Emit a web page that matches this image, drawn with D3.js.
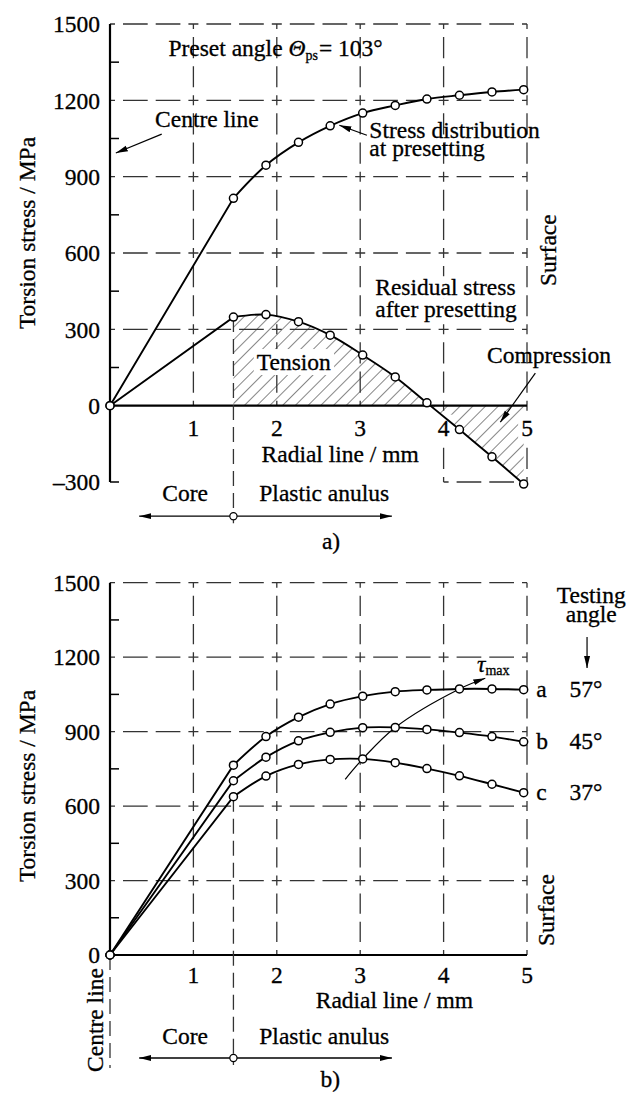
<!DOCTYPE html>
<html><head><meta charset="utf-8">
<script src="https://cdn.jsdelivr.net/npm/d3@7"></script>
<style>
body{margin:0;background:#fff;}
svg{display:block;font-family:"Liberation Serif","Times New Roman",serif;}
</style></head><body>
<svg id="chart" width="630" height="1095"></svg>
<script>
// ---------- data ----------
const radial = [0, 1.48, 1.87, 2.26, 2.64, 3.03, 3.42, 3.80, 4.19, 4.58, 4.96];
const presetStress = [0, 815, 945, 1035, 1100, 1150, 1180, 1205, 1220, 1233, 1242];
const residualStress = [0, 348, 358, 330, 277, 199, 113, 11, -94, -201, -308];
const testA = [0, 765, 880, 958, 1011, 1043, 1061, 1068, 1072, 1072, 1069];
const testB = [0, 702, 797, 863, 897, 916, 917, 909, 896, 880, 859];
const testC = [0, 638, 721, 768, 788, 790, 775, 751, 722, 688, 654];
const tauX = [2.82, 3.03, 3.42, 4.19, 4.50];
const tauY = [708, 790, 917, 1072, 1115];
const curveLabels = ["a", "b", "c"];
const testAngles = ["57°", "45°", "37°"];
const xTicks = [1, 2, 3, 4, 5];
const yTicksTop = [-300, 0, 300, 600, 900, 1200, 1500];
const yTicksBottom = [0, 300, 600, 900, 1200, 1500];
const minorTicks = [150, 450, 750, 1050, 1350];
const coreRadius = 1.48;

// ---------- setup ----------
const svg = d3.select("#chart");
const FS = 23.5;
const defs = svg.append("defs");
defs.append("marker").attr("id", "arr").attr("viewBox", "0 -5 12 10")
  .attr("refX", 12).attr("refY", 0).attr("markerWidth", 12).attr("markerHeight", 10)
  .attr("markerUnits", "userSpaceOnUse").attr("orient", "auto")
  .append("path").attr("d", "M0,-3L12,0L0,3Z").attr("fill", "#000");
const pat = defs.append("pattern").attr("id", "hatch").attr("patternUnits", "userSpaceOnUse")
  .attr("width", 9).attr("height", 9).attr("patternTransform", "rotate(45)");
pat.append("line").attr("x1", 0).attr("y1", 0).attr("x2", 0).attr("y2", 9)
  .attr("stroke", "#222").attr("stroke-width", 1.1);

// text helper: optional white backing box (pad px) under the text
function txt(g, x, y, s, o = {}) {
  const t = g.append("text").attr("font-size", o.size || FS)
    .attr("text-anchor", o.anchor || "start")
    .attr("fill", "#000").attr("stroke", "#000").attr("stroke-width", 0.3);
  if (o.rotate) t.attr("transform", `translate(${x},${y}) rotate(-90)`);
  else t.attr("x", x).attr("y", y);
  if (o.dy) t.attr("dy", o.dy);
  if (typeof s === "function") s(t); else t.text(s);
  if (o.pad) {
    const b = t.node().getBBox();
    g.insert("rect", () => t.node())
      .attr("x", b.x - o.pad).attr("y", b.y + 3 - o.pad)
      .attr("width", b.width + 2 * o.pad).attr("height", b.height - 6 + 2 * o.pad)
      .attr("fill", "#fff");
  }
  return t;
}

function cellDash(L) {
  const a = 5, g = 8, d = (L - 2 * a - 3 * g) / 2;
  return [a, g, d, g, d, g, a, 0].join(",");
}

function drawPanel(cfg) {
  const { x, y, g, yTicks, yMin } = cfg;
  const cellW = x(1) - x(0), cellH = y(0) - y(300);
  yTicks.filter(v => v > 0).forEach(v => {
    g.append("line").attr("x1", x(0)).attr("x2", x(5)).attr("y1", y(v)).attr("y2", y(v))
      .attr("stroke", "#333").attr("stroke-width", 1.3).attr("stroke-dasharray", cellDash(cellW));
  });
  xTicks.forEach(t => {
    const low = (yMin < 0 && t >= 4) ? yMin : 0;
    g.append("line").attr("x1", x(t)).attr("x2", x(t)).attr("y1", y(1500)).attr("y2", y(low))
      .attr("stroke", "#333").attr("stroke-width", 1.3).attr("stroke-dasharray", cellDash(cellH));
  });
  if (yMin < 0) {
    g.append("line").attr("x1", x(4)).attr("x2", x(5)).attr("y1", y(yMin)).attr("y2", y(yMin))
      .attr("stroke", "#333").attr("stroke-width", 1.3).attr("stroke-dasharray", cellDash(cellW));
  }
  g.append("line").attr("x1", x(0)).attr("x2", x(0)).attr("y1", y(yMin)).attr("y2", y(1500))
    .attr("stroke", "#000").attr("stroke-width", 2.2);
  g.append("line").attr("x1", x(0)).attr("x2", x(5)).attr("y1", y(0)).attr("y2", y(0))
    .attr("stroke", "#000").attr("stroke-width", 2.2);
  if (yMin < 0) {
    g.append("line").attr("x1", x(0)).attr("x2", x(0) + 9).attr("y1", y(yMin)).attr("y2", y(yMin))
      .attr("stroke", "#000").attr("stroke-width", 1.5);
  }
  minorTicks.forEach(v => {
    g.append("line").attr("x1", x(0)).attr("x2", x(0) + 9).attr("y1", y(v)).attr("y2", y(v))
      .attr("stroke", "#000").attr("stroke-width", 1.5);
  });
  yTicks.forEach(d => txt(g, x(0) - 10, y(d), d < 0 ? "\u2013" + Math.abs(d) : String(d),
    { anchor: "end", dy: "0.35em" }));
  xTicks.forEach(d => txt(g, x(d), y(0) + cfg.tickOff, String(d), { anchor: "middle", pad: 3 }));
  txt(g, 27, cfg.yTitleC, "Torsion stress / MPa", { rotate: true, anchor: "middle", dy: "0.35em" });
  txt(g, x(cfg.radialC), y(0) + cfg.radialOff, "Radial line / mm", { anchor: "middle" });
  const ay = y(0) + cfg.arrowOff;
  g.append("line").attr("x1", x(coreRadius)).attr("x2", x(coreRadius))
    .attr("y1", y(cfg.coreTop)).attr("y2", ay + 7)
    .attr("stroke", "#333").attr("stroke-width", 1.3).attr("stroke-dasharray", "15,7");
  txt(g, x(0.9), y(0) + cfg.coreOff, "Core", { anchor: "middle" });
  txt(g, x(1.79), y(0) + cfg.coreOff, "Plastic anulus");
  g.append("line").attr("x1", x(coreRadius)).attr("x2", x(0.35)).attr("y1", ay).attr("y2", ay)
    .attr("stroke", "#000").attr("stroke-width", 1.4).attr("marker-end", "url(#arr)");
  g.append("line").attr("x1", x(coreRadius)).attr("x2", x(3.38)).attr("y1", ay).attr("y2", ay)
    .attr("stroke", "#000").attr("stroke-width", 1.4).attr("marker-end", "url(#arr)");
  g.append("circle").attr("cx", x(coreRadius)).attr("cy", ay).attr("r", 3.6)
    .attr("fill", "#fff").attr("stroke", "#000").attr("stroke-width", 1.2);
  txt(g, x(cfg.capX), cfg.capY, cfg.caption, { anchor: "middle" });
}

function seriesPath(x, y, vals) {
  const pts = radial.map((r, i) => [x(r), y(vals[i])]);
  const s = d3.line().curve(d3.curveCatmullRom)(pts.slice(1));
  return `M${pts[0][0]},${pts[0][1]}L` + s.slice(1);
}
function drawSeries(g, x, y, vals) {
  g.append("path").attr("d", seriesPath(x, y, vals)).attr("fill", "none")
    .attr("stroke", "#000").attr("stroke-width", 1.9);
  g.selectAll(null).data(radial).join("circle")
    .attr("cx", d => x(d)).attr("cy", (d, i) => y(vals[i])).attr("r", 4)
    .attr("fill", "#fff").attr("stroke", "#000").attr("stroke-width", 1.5);
}
function arrow(g, x, y, p0, p1, w) {
  g.append("line").attr("x1", x(p0[0])).attr("y1", y(p0[1])).attr("x2", x(p1[0])).attr("y2", y(p1[1]))
    .attr("stroke", "#000").attr("stroke-width", w || 1.2).attr("marker-end", "url(#arr)");
}

// ---------- top panel ----------
const xT = d3.scaleLinear([0, 5], [110, 527]);
const yT = d3.scaleLinear([-300, 1500], [482, 24]);
const gT = svg.append("g");

const areaPts = radial.slice(1).map((r, i) => ({ r, v: residualStress[i + 1] }));
gT.append("path").datum(areaPts)
  .attr("d", d3.area().curve(d3.curveCatmullRom).x(d => xT(d.r)).y0(yT(0)).y1(d => yT(d.v)))
  .attr("fill", "url(#hatch)");

drawPanel({ x: xT, y: yT, g: gT, yTicks: yTicksTop, yMin: -300, tickOff: 30,
  yTitleC: 233, radialC: 2.76, radialOff: 56.5, arrowOff: 110.5, coreOff: 95.5,
  coreTop: residualStress[1], capX: 2.65, capY: 549, caption: "a)" });

txt(gT, xT(1.76), yT(140), "Tension", { pad: 3 });
txt(gT, xT(3.18), yT(434), "Residual stress", { pad: 1 });
txt(gT, xT(3.18), yT(348), "after presetting", { pad: 1 });

drawSeries(gT, xT, yT, presetStress);
drawSeries(gT, xT, yT, residualStress);

txt(gT, xT(0.70), yT(1374), t => {
  t.append("tspan").text("Preset angle ");
  t.append("tspan").attr("font-style", "italic").text("\u0398");
  t.append("tspan").attr("font-size", 14).attr("dy", 4).text("ps");
  t.append("tspan").attr("dy", -4).attr("dx", 1).text("= 103°");
});

txt(gT, xT(0.54), yT(1095), "Centre line");
arrow(gT, xT, yT, [0.62, 1067], [0.07, 993]);

txt(gT, xT(3.11), yT(1052), "Stress distribution");
txt(gT, xT(3.11), yT(981), "at presetting");
arrow(gT, xT, yT, [3.08, 1063], [2.75, 1102]);

txt(gT, xT(4.52), yT(167), "Compression");
arrow(gT, xT, yT, [5.10, 128], [4.68, -65]);

txt(gT, xT(5.25), yT(611), "Surface", { rotate: true, anchor: "middle", dy: "0.35em" });

// ---------- bottom panel ----------
const xB = d3.scaleLinear([0, 5], [110, 527]);
const yB = d3.scaleLinear([0, 1500], [955, 582.7]);
const gB = svg.append("g");

drawPanel({ x: xB, y: yB, g: gB, yTicks: yTicksBottom, yMin: 0, tickOff: 28,
  yTitleC: 786, radialC: 3.41, radialOff: 53, arrowOff: 103, coreOff: 89,
  coreTop: testC[1], capX: 2.64, capY: 1087, caption: "b)" });

gB.append("line").attr("x1", xB(0)).attr("x2", xB(0)).attr("y1", yB(0)).attr("y2", yB(-455))
  .attr("stroke", "#333").attr("stroke-width", 1.3).attr("stroke-dasharray", "15,7");
txt(gB, xB(-0.18), yB(-262), "Centre line", { rotate: true, anchor: "middle", dy: "0.35em" });

const tauPts = tauX.map((t, i) => [xB(t), yB(tauY[i])]);
gB.append("path").attr("d", d3.line().curve(d3.curveCatmullRom)(tauPts))
  .attr("fill", "none").attr("stroke", "#000").attr("stroke-width", 1.2).attr("marker-end", "url(#arr)");

[testA, testB, testC].forEach((vals, k) => {
  drawSeries(gB, xB, yB, vals);
  const last = vals[vals.length - 1];
  txt(gB, xB(5.11), yB(last), curveLabels[k], { dy: "0.32em" });
  txt(gB, xB(5.51), yB(last), testAngles[k], { dy: "0.32em" });
});

txt(gB, xB(4.40), yB(1140), t => {
  t.append("tspan").attr("font-style", "italic").text("\u03C4");
  t.append("tspan").attr("font-size", 14).attr("dy", 3).text("max");
});

txt(gB, xB(5.77), yB(1419), "Testing", { anchor: "middle" });
txt(gB, xB(5.77), yB(1342), "angle", { anchor: "middle" });
arrow(gB, xB, yB, [5.72, 1281], [5.72, 1156]);

txt(gB, xB(5.22), yB(181), "Surface", { rotate: true, anchor: "middle", dy: "0.35em" });
</script>
</body></html>
